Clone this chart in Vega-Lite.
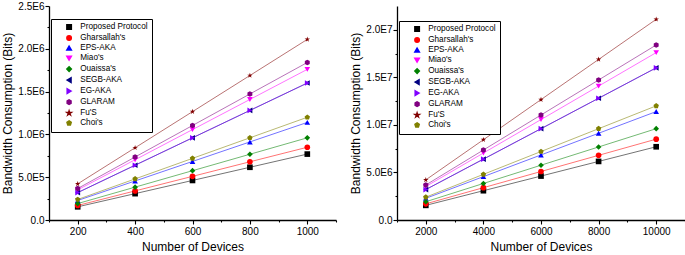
{
  "$schema": "https://vega.github.io/schema/vega-lite/v6.json",
  "padding": {"left": 1, "top": 1, "right": 0, "bottom": 0},
  "spacing": 12,
  "config": {
    "font": "Liberation Sans",
    "view": {"stroke": null},
    "axis": {"domainColor": "black", "domainWidth": 1.3, "tickColor": "black", "tickWidth": 1.1, "labelColor": "black", "titleColor": "black", "labelFontSize": 10, "titleFontSize": 12, "titleFontWeight": "normal", "grid": false}
  },
  "datasets": {
    "left": [
      {"series": "Proposed Protocol", "x": 200, "y": 154000}, {"series": "Proposed Protocol", "x": 400, "y": 308000}, {"series": "Proposed Protocol", "x": 600, "y": 462000}, {"series": "Proposed Protocol", "x": 800, "y": 616000}, {"series": "Proposed Protocol", "x": 1000, "y": 770000},
      {"series": "Gharsallah's", "x": 200, "y": 170000}, {"series": "Gharsallah's", "x": 400, "y": 340000}, {"series": "Gharsallah's", "x": 600, "y": 510000}, {"series": "Gharsallah's", "x": 800, "y": 680000}, {"series": "Gharsallah's", "x": 1000, "y": 850000},
      {"series": "EPS-AKA", "x": 200, "y": 228000}, {"series": "EPS-AKA", "x": 400, "y": 456000}, {"series": "EPS-AKA", "x": 600, "y": 684000}, {"series": "EPS-AKA", "x": 800, "y": 912000}, {"series": "EPS-AKA", "x": 1000, "y": 1140000},
      {"series": "Miao's", "x": 200, "y": 352000}, {"series": "Miao's", "x": 400, "y": 704000}, {"series": "Miao's", "x": 600, "y": 1056000}, {"series": "Miao's", "x": 800, "y": 1408000}, {"series": "Miao's", "x": 1000, "y": 1760000},
      {"series": "Ouaissa's", "x": 200, "y": 192000}, {"series": "Ouaissa's", "x": 400, "y": 384000}, {"series": "Ouaissa's", "x": 600, "y": 576000}, {"series": "Ouaissa's", "x": 800, "y": 768000}, {"series": "Ouaissa's", "x": 1000, "y": 960000},
      {"series": "SEGB-AKA", "x": 200, "y": 320000}, {"series": "SEGB-AKA", "x": 400, "y": 640000}, {"series": "SEGB-AKA", "x": 600, "y": 960000}, {"series": "SEGB-AKA", "x": 800, "y": 1280000}, {"series": "SEGB-AKA", "x": 1000, "y": 1600000},
      {"series": "EG-AKA", "x": 200, "y": 320000}, {"series": "EG-AKA", "x": 400, "y": 640000}, {"series": "EG-AKA", "x": 600, "y": 960000}, {"series": "EG-AKA", "x": 800, "y": 1280000}, {"series": "EG-AKA", "x": 1000, "y": 1600000},
      {"series": "GLARAM", "x": 200, "y": 368000}, {"series": "GLARAM", "x": 400, "y": 736000}, {"series": "GLARAM", "x": 600, "y": 1104000}, {"series": "GLARAM", "x": 800, "y": 1472000}, {"series": "GLARAM", "x": 1000, "y": 1840000},
      {"series": "Fu'S", "x": 200, "y": 422000}, {"series": "Fu'S", "x": 400, "y": 844000}, {"series": "Fu'S", "x": 600, "y": 1266000}, {"series": "Fu'S", "x": 800, "y": 1688000}, {"series": "Fu'S", "x": 1000, "y": 2110000},
      {"series": "Choi's", "x": 200, "y": 240000}, {"series": "Choi's", "x": 400, "y": 480000}, {"series": "Choi's", "x": 600, "y": 720000}, {"series": "Choi's", "x": 800, "y": 960000}, {"series": "Choi's", "x": 1000, "y": 1200000}
    ],
    "right": [
      {"series": "Proposed Protocol", "x": 2000, "y": 1540000}, {"series": "Proposed Protocol", "x": 4000, "y": 3080000}, {"series": "Proposed Protocol", "x": 6000, "y": 4620000}, {"series": "Proposed Protocol", "x": 8000, "y": 6160000}, {"series": "Proposed Protocol", "x": 10000, "y": 7700000},
      {"series": "Gharsallah's", "x": 2000, "y": 1700000}, {"series": "Gharsallah's", "x": 4000, "y": 3400000}, {"series": "Gharsallah's", "x": 6000, "y": 5100000}, {"series": "Gharsallah's", "x": 8000, "y": 6800000}, {"series": "Gharsallah's", "x": 10000, "y": 8500000},
      {"series": "EPS-AKA", "x": 2000, "y": 2280000}, {"series": "EPS-AKA", "x": 4000, "y": 4560000}, {"series": "EPS-AKA", "x": 6000, "y": 6840000}, {"series": "EPS-AKA", "x": 8000, "y": 9120000}, {"series": "EPS-AKA", "x": 10000, "y": 11400000},
      {"series": "Miao's", "x": 2000, "y": 3520000}, {"series": "Miao's", "x": 4000, "y": 7040000}, {"series": "Miao's", "x": 6000, "y": 10560000}, {"series": "Miao's", "x": 8000, "y": 14080000}, {"series": "Miao's", "x": 10000, "y": 17600000},
      {"series": "Ouaissa's", "x": 2000, "y": 1920000}, {"series": "Ouaissa's", "x": 4000, "y": 3840000}, {"series": "Ouaissa's", "x": 6000, "y": 5760000}, {"series": "Ouaissa's", "x": 8000, "y": 7680000}, {"series": "Ouaissa's", "x": 10000, "y": 9600000},
      {"series": "SEGB-AKA", "x": 2000, "y": 3200000}, {"series": "SEGB-AKA", "x": 4000, "y": 6400000}, {"series": "SEGB-AKA", "x": 6000, "y": 9600000}, {"series": "SEGB-AKA", "x": 8000, "y": 12800000}, {"series": "SEGB-AKA", "x": 10000, "y": 16000000},
      {"series": "EG-AKA", "x": 2000, "y": 3200000}, {"series": "EG-AKA", "x": 4000, "y": 6400000}, {"series": "EG-AKA", "x": 6000, "y": 9600000}, {"series": "EG-AKA", "x": 8000, "y": 12800000}, {"series": "EG-AKA", "x": 10000, "y": 16000000},
      {"series": "GLARAM", "x": 2000, "y": 3680000}, {"series": "GLARAM", "x": 4000, "y": 7360000}, {"series": "GLARAM", "x": 6000, "y": 11040000}, {"series": "GLARAM", "x": 8000, "y": 14720000}, {"series": "GLARAM", "x": 10000, "y": 18400000},
      {"series": "Fu'S", "x": 2000, "y": 4220000}, {"series": "Fu'S", "x": 4000, "y": 8440000}, {"series": "Fu'S", "x": 6000, "y": 12660000}, {"series": "Fu'S", "x": 8000, "y": 16880000}, {"series": "Fu'S", "x": 10000, "y": 21100000},
      {"series": "Choi's", "x": 2000, "y": 2400000}, {"series": "Choi's", "x": 4000, "y": 4800000}, {"series": "Choi's", "x": 6000, "y": 7200000}, {"series": "Choi's", "x": 8000, "y": 9600000}, {"series": "Choi's", "x": 10000, "y": 12000000}
    ]
  },
  "hconcat": [
    {
      "width": 287, "height": 214,
      "data": {"name": "left"},
      "layer": [
        {
          "mark": {"type": "line", "strokeWidth": 1, "opacity": 0.55},
          "encoding": {
            "x": {"field": "x", "type": "quantitative", "scale": {"domain": [100, 1100], "nice": false}, "axis": {"orient": "bottom", "values": [200, 400, 600, 800, 1000], "format": "d", "tickSize": 4, "labelPadding": 2, "title": "Number of Devices", "titlePadding": 5}},
            "y": {"field": "y", "type": "quantitative", "scale": {"domain": [0, 2500000], "nice": false}, "axis": {"orient": "left", "values": [0, 500000, 1000000, 1500000, 2000000, 2500000], "tickSize": 4, "labelPadding": 1, "labelExpr": "datum.value == 0 ? '0.0' : replace(upper(format(datum.value, '.1e')), '+', '')", "title": "Bandwidth Consumption (Bits)", "titlePadding": 3}},
            "color": {"field": "series", "type": "nominal", "scale": {"domain": ["Proposed Protocol", "Gharsallah's", "EPS-AKA", "Miao's", "Ouaissa's", "SEGB-AKA", "EG-AKA", "GLARAM", "Fu'S", "Choi's"], "range": ["#000000", "#ff0000", "#0000ff", "#ff00ff", "#008000", "#000080", "#8000ff", "#800080", "#800000", "#808000"]}, "legend": {"orient": "none", "legendX": 2, "legendY": 13, "title": null, "strokeColor": "black", "fillColor": "white", "padding": 4, "labelFontSize": 8.2, "symbolSize": 20, "rowPadding": -1, "symbolOffset": 10, "labelOffset": 7, "labelLimit": 200, "labelColor": "black", "symbolOpacity": 1}}
          }
        },
        {
          "mark": {"type": "point", "filled": true, "opacity": 1, "size": 32},
          "encoding": {
            "x": {"field": "x", "type": "quantitative", "axis": {"orient": "bottom", "values": [100, 300, 500, 700, 900, 1100], "tickSize": 2, "labels": false, "domain": false, "title": null}},
            "y": {"field": "y", "type": "quantitative", "axis": {"orient": "left", "values": [250000, 750000, 1250000, 1750000, 2250000], "tickSize": 2, "labels": false, "domain": false, "title": null}},
            "color": {"field": "series", "type": "nominal", "legend": {"orient": "none", "legendX": 2, "legendY": 13, "title": null, "strokeColor": "black", "fillColor": "white", "padding": 4, "labelFontSize": 8.2, "symbolSize": 20, "rowPadding": -1, "symbolOffset": 10, "labelOffset": 7, "labelLimit": 200, "labelColor": "black", "symbolOpacity": 1}},
            "shape": {"field": "series", "type": "nominal", "scale": {"domain": ["Proposed Protocol", "Gharsallah's", "EPS-AKA", "Miao's", "Ouaissa's", "SEGB-AKA", "EG-AKA", "GLARAM", "Fu'S", "Choi's"], "range": ["square", "circle", "triangle-up", "triangle-down", "diamond", "triangle-left", "triangle-right", "M0,-1L0.866,-0.5L0.866,0.5L0,1L-0.866,0.5L-0.866,-0.5Z", "M0,-1L0.2245,-0.309L0.951,-0.309L0.3633,0.118L0.5878,0.809L0,0.382L-0.5878,0.809L-0.3633,0.118L-0.951,-0.309L-0.2245,-0.309Z", "M0,-1L0.951,-0.309L0.588,0.809L-0.588,0.809L-0.951,-0.309Z"]}, "legend": {"orient": "none", "legendX": 2, "legendY": 13, "title": null, "strokeColor": "black", "fillColor": "white", "padding": 4, "labelFontSize": 8.2, "symbolSize": 20, "rowPadding": -1, "symbolOffset": 10, "labelOffset": 7, "labelLimit": 200, "labelColor": "black", "symbolOpacity": 1}}
          }
        }
      ],
      "resolve": {"axis": {"x": "independent", "y": "independent"}}
    },
    {
      "width": 288, "height": 214,
      "data": {"name": "right"},
      "layer": [
        {
          "mark": {"type": "line", "strokeWidth": 1, "opacity": 0.55},
          "encoding": {
            "x": {"field": "x", "type": "quantitative", "scale": {"domain": [1000, 11000], "nice": false}, "axis": {"orient": "bottom", "values": [2000, 4000, 6000, 8000, 10000], "format": "d", "tickSize": 4, "labelPadding": 2, "title": "Number of Devices", "titlePadding": 5}},
            "y": {"field": "y", "type": "quantitative", "scale": {"domain": [0, 22500000], "nice": false}, "axis": {"orient": "left", "values": [0, 5000000, 10000000, 15000000, 20000000], "tickSize": 4, "labelPadding": 1, "labelExpr": "datum.value == 0 ? '0.0' : replace(upper(format(datum.value, '.1e')), '+', '')", "title": "Bandwidth Consumption (Bits)", "titlePadding": 3}},
            "color": {"field": "series", "type": "nominal", "scale": {"domain": ["Proposed Protocol", "Gharsallah's", "EPS-AKA", "Miao's", "Ouaissa's", "SEGB-AKA", "EG-AKA", "GLARAM", "Fu'S", "Choi's"], "range": ["#000000", "#ff0000", "#0000ff", "#ff00ff", "#008000", "#000080", "#8000ff", "#800080", "#800000", "#808000"]}, "legend": {"orient": "none", "legendX": 2, "legendY": 15, "title": null, "strokeColor": "black", "fillColor": "white", "padding": 4, "labelFontSize": 8.2, "symbolSize": 20, "rowPadding": -1, "symbolOffset": 10, "labelOffset": 7, "labelLimit": 200, "labelColor": "black", "symbolOpacity": 1}}
          }
        },
        {
          "mark": {"type": "point", "filled": true, "opacity": 1, "size": 32},
          "encoding": {
            "x": {"field": "x", "type": "quantitative", "axis": {"orient": "bottom", "values": [1000, 3000, 5000, 7000, 9000, 11000], "tickSize": 2, "labels": false, "domain": false, "title": null}},
            "y": {"field": "y", "type": "quantitative", "axis": {"orient": "left", "values": [2500000, 7500000, 12500000, 17500000], "tickSize": 2, "labels": false, "domain": false, "title": null}},
            "color": {"field": "series", "type": "nominal", "legend": {"orient": "none", "legendX": 2, "legendY": 15, "title": null, "strokeColor": "black", "fillColor": "white", "padding": 4, "labelFontSize": 8.2, "symbolSize": 20, "rowPadding": -1, "symbolOffset": 10, "labelOffset": 7, "labelLimit": 200, "labelColor": "black", "symbolOpacity": 1}},
            "shape": {"field": "series", "type": "nominal", "scale": {"domain": ["Proposed Protocol", "Gharsallah's", "EPS-AKA", "Miao's", "Ouaissa's", "SEGB-AKA", "EG-AKA", "GLARAM", "Fu'S", "Choi's"], "range": ["square", "circle", "triangle-up", "triangle-down", "diamond", "triangle-left", "triangle-right", "M0,-1L0.866,-0.5L0.866,0.5L0,1L-0.866,0.5L-0.866,-0.5Z", "M0,-1L0.2245,-0.309L0.951,-0.309L0.3633,0.118L0.5878,0.809L0,0.382L-0.5878,0.809L-0.3633,0.118L-0.951,-0.309L-0.2245,-0.309Z", "M0,-1L0.951,-0.309L0.588,0.809L-0.588,0.809L-0.951,-0.309Z"]}, "legend": {"orient": "none", "legendX": 2, "legendY": 15, "title": null, "strokeColor": "black", "fillColor": "white", "padding": 4, "labelFontSize": 8.2, "symbolSize": 20, "rowPadding": -1, "symbolOffset": 10, "labelOffset": 7, "labelLimit": 200, "labelColor": "black", "symbolOpacity": 1}}
          }
        }
      ],
      "resolve": {"axis": {"x": "independent", "y": "independent"}}
    }
  ],
  "resolve": {"scale": {"color": "independent", "shape": "independent", "x": "independent", "y": "independent"}, "legend": {"color": "independent", "shape": "independent"}}
}
